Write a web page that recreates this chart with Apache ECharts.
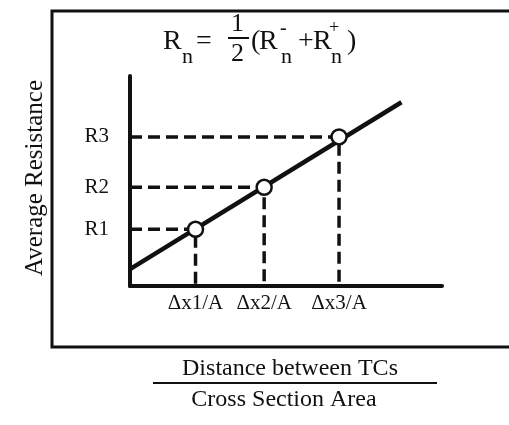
<!DOCTYPE html>
<html lang="en">
<head>
    <meta charset="UTF-8">
    <title>Average Resistance</title>
    <script src="https://cdn.jsdelivr.net/npm/echarts@6/dist/echarts.min.js"></script>
    <style>
        html, body { margin: 0; padding: 0; background: #fff; }
        #chart { width: 509px; height: 425px; }
    </style>
</head>
<body>
    <div id="chart"></div>
    <script>
        // values (axis units 0..10 on both axes)
        var dxLabels = ['\u0394x1/A', '\u0394x2/A', '\u0394x3/A'];
        var dxValues = [2.1, 4.3, 6.7];
        var rLabels = ['R1', 'R2', 'R3'];
        var rValues = [2.7, 4.7, 7.1];
        var fitX = [0, 8.7];
        var fitY = [0.8, 8.75];

        var ink = '#111';
        var serif = 'Liberation Serif, Times New Roman, serif';

        // dashed guides: y axis -> point -> x axis
        var guides = dxValues.map(function (x, i) {
            return {
                type: 'line',
                data: [[0, rValues[i]], [x, rValues[i]], [x, 0]],
                showSymbol: false,
                silent: true,
                lineStyle: { color: ink, width: 3.5, type: [12, 6] },
                z: 2
            };
        });

        // title pieces: [text, x, y, size]
        var titleParts = [
            ['R', 163, 42, 28], ['n', 182, 57, 22], ['=', 196, 42, 28],
            ['1', 231, 24, 26], ['2', 231, 54, 26],
            ['(', 251, 42, 28], ['R', 259, 42, 28], ['-', 280, 29, 20], ['n', 281, 57, 22],
            ['+', 298, 42, 28], ['R', 313, 42, 28], ['+', 329, 28, 18], ['n', 331, 57, 22],
            [')', 347, 42, 28]
        ];
        var titleGraphics = titleParts.map(function (p) {
            return {
                type: 'text',
                style: {
                    text: p[0], x: p[1], y: p[2], fill: ink,
                    font: p[3] + 'px ' + serif,
                    textAlign: 'left', textVerticalAlign: 'middle'
                }
            };
        });

        var chart = echarts.init(document.getElementById('chart'));
        chart.setOption({
            animation: false,
            backgroundColor: '#fff',
            grid: { left: 130, right: 67, top: 76, bottom: 139 },
            xAxis: {
                type: 'value', min: 0, max: 10,
                splitLine: { show: false },
                axisTick: { show: false },
                axisLine: { lineStyle: { color: ink, width: 4 } },
                axisLabel: {
                    customValues: dxValues,
                    formatter: function (v) { return dxLabels[dxValues.indexOf(v)]; },
                    color: ink, fontFamily: serif, fontSize: 21, margin: 7
                }
            },
            yAxis: {
                type: 'value', min: 0, max: 10,
                splitLine: { show: false },
                axisTick: { show: false },
                axisLine: { lineStyle: { color: ink, width: 4 } },
                axisLabel: {
                    customValues: rValues,
                    formatter: function (v) { return rLabels[rValues.indexOf(v)]; },
                    color: ink, fontFamily: serif, fontSize: 21, margin: 21
                }
            },
            series: guides.concat([
                {
                    type: 'line',
                    data: [[fitX[0], fitY[0]], [fitX[1], fitY[1]]],
                    showSymbol: false,
                    lineStyle: { color: ink, width: 4.5 },
                    z: 3
                },
                {
                    type: 'scatter',
                    data: dxValues.map(function (x, i) { return [x, rValues[i]]; }),
                    symbol: 'circle',
                    symbolSize: 15,
                    itemStyle: { color: '#fff', borderColor: ink, borderWidth: 2.5, opacity: 1 },
                    z: 4
                }
            ]),
            graphic: titleGraphics.concat([
                {
                    type: 'rect',
                    shape: { x: 52, y: 11, width: 480, height: 336 },
                    style: { fill: 'none', stroke: ink, lineWidth: 3 }
                },
                {
                    type: 'line',
                    shape: { x1: 228, y1: 38, x2: 249, y2: 38 },
                    style: { stroke: ink, lineWidth: 2 }
                },
                {
                    type: 'text',
                    x: 35, y: 178, rotation: Math.PI / 2,
                    style: {
                        text: 'Average Resistance', x: 0, y: 0, fill: ink,
                        font: '25px ' + serif, textAlign: 'center', textVerticalAlign: 'middle'
                    }
                },
                {
                    type: 'text',
                    style: {
                        text: 'Distance between TCs', x: 290, y: 369, fill: ink,
                        font: '24px ' + serif, textAlign: 'center', textVerticalAlign: 'middle'
                    }
                },
                {
                    type: 'line',
                    shape: { x1: 153, y1: 383, x2: 437, y2: 383 },
                    style: { stroke: ink, lineWidth: 2 }
                },
                {
                    type: 'text',
                    style: {
                        text: 'Cross Section Area', x: 284, y: 400, fill: ink,
                        font: '24px ' + serif, textAlign: 'center', textVerticalAlign: 'middle'
                    }
                }
            ])
        });
    </script>
</body>
</html>
